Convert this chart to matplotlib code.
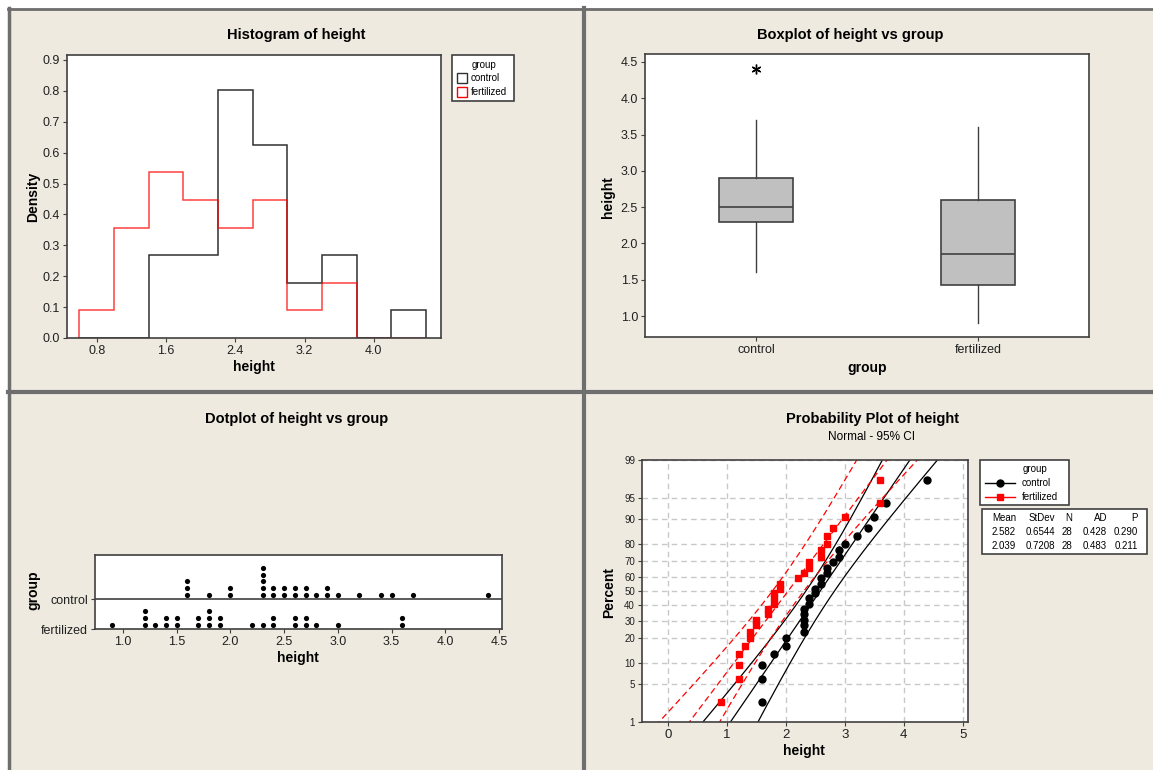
import numpy as np
import matplotlib
matplotlib.use('Agg')
import matplotlib.pyplot as plt
from matplotlib.patches import Rectangle
from matplotlib.lines import Line2D
from statistics import NormalDist

# data (value, how many dots)
control_vals = [1.6, 1.8, 2.0, 2.3, 2.4, 2.5, 2.6, 2.7, 2.8, 2.9, 3.0, 3.2, 3.4, 3.5, 3.7, 4.4]
control_cnt = [3, 1, 2, 5, 2, 2, 2, 2, 1, 2, 1, 1, 1, 1, 1, 1]
fert_vals = [0.9, 1.2, 1.3, 1.4, 1.5, 1.7, 1.8, 1.9, 2.2, 2.3, 2.4, 2.6, 2.7, 2.8, 3.0, 3.6]
fert_cnt = [1, 3, 1, 2, 2, 2, 3, 2, 1, 1, 2, 2, 2, 1, 1, 2]
groups = ['control', 'fertilized']
bin_edges = [0.6, 1.0, 1.4, 1.8, 2.2, 2.6, 3.0, 3.4, 3.8, 4.2, 4.6]
pct_ticks = [1, 5, 10, 20, 30, 40, 50, 60, 70, 80, 90, 95, 99]
stats_header = ['Mean', 'StDev', 'N', 'AD', 'P']
stats_rows = [['2.582', '0.6544', '28', '0.428', '0.290'],
              ['2.039', '0.7208', '28', '0.483', '0.211']]

control = np.repeat(control_vals, control_cnt)
fert = np.repeat(fert_vals, fert_cnt)
data = [control, fert]

BG = '#EEEAE0'
FR = '#404040'
RED = '#FF0000'
plt.rcParams['font.family'] = ['Liberation Sans', 'DejaVu Sans']

W, H = 1153, 770
fig = plt.figure(figsize=(W / 100, H / 100), dpi=100, facecolor='white')


def ax_px(l, t, r, b):
    return fig.add_axes([l / W, 1 - b / H, (r - l) / W, (b - t) / H])


def txt(x, y, s, **kw):
    kw.setdefault('ha', 'center')
    kw.setdefault('va', 'center')
    fig.text(x / W, 1 - y / H, s, **kw)


def rect_px(l, t, r, b, **kw):
    fig.patches.append(Rectangle((l / W, 1 - b / H), (r - l) / W, (b - t) / H,
                                 transform=fig.transFigure, **kw))


def line_px(xs, ys, **kw):
    fig.lines.append(Line2D([x / W for x in xs], [1 - y / H for y in ys],
                            transform=fig.transFigure, **kw))


def style(ax, lsize=9):
    for s in ax.spines.values():
        s.set_color(FR)
        s.set_linewidth(1.2)
    ax.tick_params(direction='out', length=3, color=FR, labelsize=lsize, pad=2, labelcolor='#202020')


# background panels
rect_px(8, 8, W + 2, H + 2, facecolor=BG, edgecolor='none', zorder=-10)
line_px([8.5, 8.5], [8, H], color='#6E6E6E', lw=2.5)
line_px([8, W], [8.5, 8.5], color='#6E6E6E', lw=2)
line_px([584, 584], [8, H], color='#6E6E6E', lw=3)
line_px([8, W], [391.5, 391.5], color='#6E6E6E', lw=3)

# ---------------- histogram ----------------
ax1 = ax_px(67, 55, 441, 338)
ax1.hist(control, bins=bin_edges, density=True, histtype='step', color='#303030', lw=1.1)
ax1.hist(fert, bins=bin_edges, density=True, histtype='step', color=RED, lw=1.1, alpha=0.75)
ax1.set_xlim(0.457, 4.775)
ax1.set_ylim(0, 0.916)
ax1.set_xticks([0.8, 1.6, 2.4, 3.2, 4.0])
ax1.set_xticklabels(['%.1f' % v for v in [0.8, 1.6, 2.4, 3.2, 4.0]])
ax1.set_yticks(np.arange(0, 10) / 10)
ax1.set_yticklabels(['%.1f' % (v / 10) for v in range(10)])
style(ax1)
txt(296, 35, 'Histogram of height', fontsize=10.5, fontweight='bold')
txt(254, 367, 'height', fontsize=10, fontweight='bold')
txt(33, 197, 'Density', fontsize=10, fontweight='bold', rotation=90)
# legend
rect_px(452, 55, 514, 101, facecolor='white', edgecolor=FR, lw=1.2)
txt(484, 65, 'group', fontsize=7)
for i, c in enumerate(['#303030', RED]):
    rect_px(457, 73 + i * 14, 467, 83 + i * 14, facecolor='white', edgecolor=c, lw=1)
    txt(471, 78 + i * 14, groups[i], fontsize=7, ha='left')

# ---------------- boxplot ----------------
def box_stats(x):
    q1, med, q3 = np.percentile(x, [25, 50, 75], method='weibull')
    iqr = q3 - q1
    lo = x[x >= q1 - 1.5 * iqr].min()
    hi = x[x <= q3 + 1.5 * iqr].max()
    return dict(med=med, q1=q1, q3=q3, whislo=lo, whishi=hi,
                fliers=x[(x < lo) | (x > hi)])


ax2 = ax_px(645, 54, 1089, 337)
ax2.bxp([box_stats(d) for d in data], positions=[1, 2], widths=0.336, patch_artist=True,
        showcaps=False,
        boxprops=dict(facecolor='#C0C0C0', edgecolor=FR, lw=1.2),
        medianprops=dict(color=FR, lw=1.2),
        whiskerprops=dict(color=FR, lw=1),
        flierprops=dict(marker=(6, 2, 0), markersize=7, markeredgecolor='black', markeredgewidth=1))
ax2.set_xlim(0.5, 2.5)
ax2.set_ylim(0.711, 4.61)
ax2.set_xticks([1, 2])
ax2.set_xticklabels(groups)
ax2.set_yticks(np.arange(1.0, 4.6, 0.5))
ax2.set_yticklabels(['%.1f' % v for v in np.arange(1.0, 4.6, 0.5)])
style(ax2)
txt(850, 35, 'Boxplot of height vs group', fontsize=10.5, fontweight='bold')
txt(867, 368, 'group', fontsize=10, fontweight='bold')
txt(608, 197, 'height', fontsize=10, fontweight='bold', rotation=90)

# ---------------- dotplot ----------------
ax3 = ax_px(95, 555, 502, 629)
for base, vals, cnts in [(1, control_vals, control_cnt), (0, fert_vals, fert_cnt)]:
    xs, ys = [], []
    for v, c in zip(vals, cnts):
        for k in range(c):
            xs.append(v)
            ys.append(base + 0.135 + 0.227 * k)
    ax3.scatter(xs, ys, s=14, color='black', zorder=3, linewidths=0)
ax3.axhline(1, color=FR, lw=1.2)
ax3.set_xlim(0.739, 4.528)
ax3.set_ylim(0, 74 / 30)
ax3.set_yticks([1, 0])
ax3.set_yticklabels(groups)
ax3.set_xticks(np.arange(1.0, 4.6, 0.5))
ax3.set_xticklabels(['%.1f' % v for v in np.arange(1.0, 4.6, 0.5)])
style(ax3)
txt(297, 419, 'Dotplot of height vs group', fontsize=10.5, fontweight='bold')
txt(298, 658, 'height', fontsize=10, fontweight='bold')
txt(33, 590, 'group', fontsize=10, fontweight='bold', rotation=90)

# ---------------- probability plot ----------------
nd = NormalDist()
ax4 = ax_px(642, 460, 968, 722)
zlim = nd.inv_cdf(0.01)
zz = np.linspace(zlim - 0.2, -zlim + 0.2, 200)
for d, col, mk, ls in [(control, 'black', 'o', '-'), (fert, RED, 's', (0, (5, 3)))]:
    n = len(d)
    xs = np.sort(d)
    pp = (np.arange(1, n + 1) - 0.3) / (n + 0.4)
    zs = [nd.inv_cdf(p) for p in pp]
    m, s = d.mean(), d.std(ddof=1)
    half = 1.96 * s * np.sqrt(1 / n + zz ** 2 / (2 * n))
    ax4.plot(m + s * zz, zz, color=col, lw=0.9, ls=ls)
    ax4.plot(m + s * zz - half, zz, color=col, lw=0.9, ls=ls)
    ax4.plot(m + s * zz + half, zz, color=col, lw=0.9, ls=ls)
    ax4.plot(xs, zs, ls='none', marker=mk, color=col, markersize=5 if mk == 'o' else 4.8, zorder=4)
ax4.set_xlim(-0.44, 5.09)
ax4.set_ylim(zlim, -zlim)
ax4.set_xticks(range(6))
ax4.set_yticks([nd.inv_cdf(p / 100) for p in pct_ticks])
ax4.set_yticklabels([str(p) for p in pct_ticks])
ax4.grid(True, color='#C8C8C8', ls=(0, (4, 3)), lw=1)
ax4.set_axisbelow(True)
style(ax4)
ax4.tick_params(axis='y', labelsize=7)
ax4.tick_params(axis='x', labelsize=9.5)
txt(872, 419, 'Probability Plot of height', fontsize=10.5, fontweight='bold')
txt(872, 437, 'Normal - 95% CI', fontsize=8.5)
txt(804, 751, 'height', fontsize=10, fontweight='bold')
txt(609, 592, 'Percent', fontsize=10, fontweight='bold', rotation=90)
# legend
rect_px(980, 460, 1069, 505, facecolor='white', edgecolor=FR, lw=1.2)
txt(1035, 469, 'group', fontsize=7)
for i, (c, mk, ls) in enumerate([('black', 'o', '-'), (RED, 's', '-')]):
    y = 483 + i * 14
    line_px([985, 1015], [y, y], color=c, lw=1)
    line_px([1000], [y], color=c, marker=mk, markersize=5 if mk == 'o' else 4.5, ls='none')
    txt(1022, y, groups[i], fontsize=7, ha='left')
# stats table
rect_px(982, 509, 1147, 554, facecolor='white', edgecolor=FR, lw=1.2)
col_right = [1016, 1055, 1072, 1107, 1138]
for j, h in enumerate(stats_header):
    txt(col_right[j], 518, h, fontsize=7, ha='right')
for i, row in enumerate(stats_rows):
    for j, v in enumerate(row):
        txt(col_right[j], 532 + i * 14, v, fontsize=7, ha='right')

fig.savefig('out.png', dpi=100, facecolor=fig.get_facecolor())
